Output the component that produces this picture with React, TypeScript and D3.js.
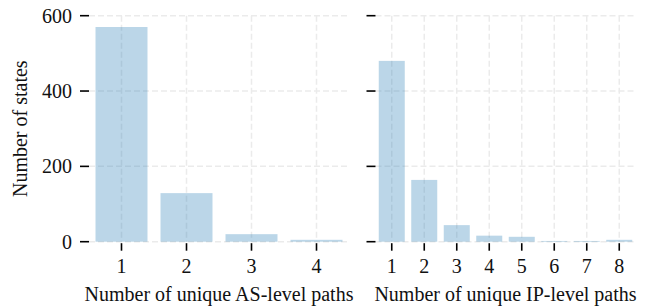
import * as d3 from "d3";

const asLevels = ["1", "2", "3", "4"];
const asCounts = [570, 129, 20, 5];
const ipLevels = ["1", "2", "3", "4", "5", "6", "7", "8"];
const ipCounts = [480, 164, 44, 16, 13, 2, 2, 5];
const yTicks = [0, 200, 400, 600];

const W = 651;
const H = 308;
const top = 15.7;
const bottom = 241.7;
const font = "Liberation Serif, DejaVu Serif, serif";
const barColor = "#1f77b4";
const gridColor = "#ebebeb";

const yScale = d3.scaleLinear().domain([0, 600]).range([bottom, top]);

const textStyle = { fontFamily: font, fontSize: "20px", fill: "#111" };

function Panel({
  levels,
  counts,
  x0,
  x1,
  title,
  showLabels,
}: {
  levels: string[];
  counts: number[];
  x0: number;
  x1: number;
  title: string;
  showLabels: boolean;
}) {
  const x = d3.scaleBand().domain(levels).range([x0, x1]).paddingInner(0.2).paddingOuter(0.1);
  const center = (d: string) => (x(d) as number) + x.bandwidth() / 2;
  return (
    <g>
      {/* grid */}
      {yTicks.map((t) => (
        <line
          key={"h" + t}
          x1={x0}
          x2={x1}
          y1={yScale(t)}
          y2={yScale(t)}
          stroke={gridColor}
          strokeWidth={1.5}
          strokeDasharray="6,3"
        />
      ))}
      {levels.map((d) => (
        <line
          key={"v" + d}
          x1={center(d)}
          x2={center(d)}
          y1={top}
          y2={bottom}
          stroke={gridColor}
          strokeWidth={1.5}
          strokeDasharray="6,3"
        />
      ))}
      {/* bars */}
      {levels.map((d, i) => (
        <rect
          key={"b" + d}
          x={x(d)}
          width={x.bandwidth()}
          y={yScale(counts[i])}
          height={bottom - yScale(counts[i])}
          fill={barColor}
          fillOpacity={0.3}
        />
      ))}
      {/* y ticks */}
      {yTicks.map((t) => (
        <g key={"yt" + t}>
          <line x1={x0 - 9} x2={x0} y1={yScale(t)} y2={yScale(t)} stroke="#000" strokeWidth={1.6} />
          {showLabels && (
            <text x={x0 - 17} y={yScale(t) + 6.8} textAnchor="end" style={textStyle}>
              {t}
            </text>
          )}
        </g>
      ))}
      {/* x ticks */}
      {levels.map((d) => (
        <g key={"xt" + d}>
          <line x1={center(d)} x2={center(d)} y1={bottom + 1.5} y2={bottom + 9} stroke="#000" strokeWidth={1.6} />
          <text x={center(d)} y={273} textAnchor="middle" style={textStyle}>
            {d}
          </text>
        </g>
      ))}
      <text x={(x0 + x1) / 2} y={300.5} textAnchor="middle" style={textStyle}>
        {title}
      </text>
    </g>
  );
}

export default function App() {
  return (
    <svg
      width={W}
      height={H}
      style={{ position: "absolute", left: 0, top: 0, background: "#fff" }}
    >
      <Panel
        levels={asLevels}
        counts={asCounts}
        x0={89}
        x1={349}
        title="Number of unique AS-level paths"
        showLabels={true}
      />
      <Panel
        levels={ipLevels}
        counts={ipCounts}
        x0={375.5}
        x1={635.5}
        title="Number of unique IP-level paths"
        showLabels={false}
      />
      <text
        transform={`translate(27,${(top + bottom) / 2}) rotate(-90)`}
        textAnchor="middle"
        style={textStyle}
      >
        Number of states
      </text>
    </svg>
  );
}
